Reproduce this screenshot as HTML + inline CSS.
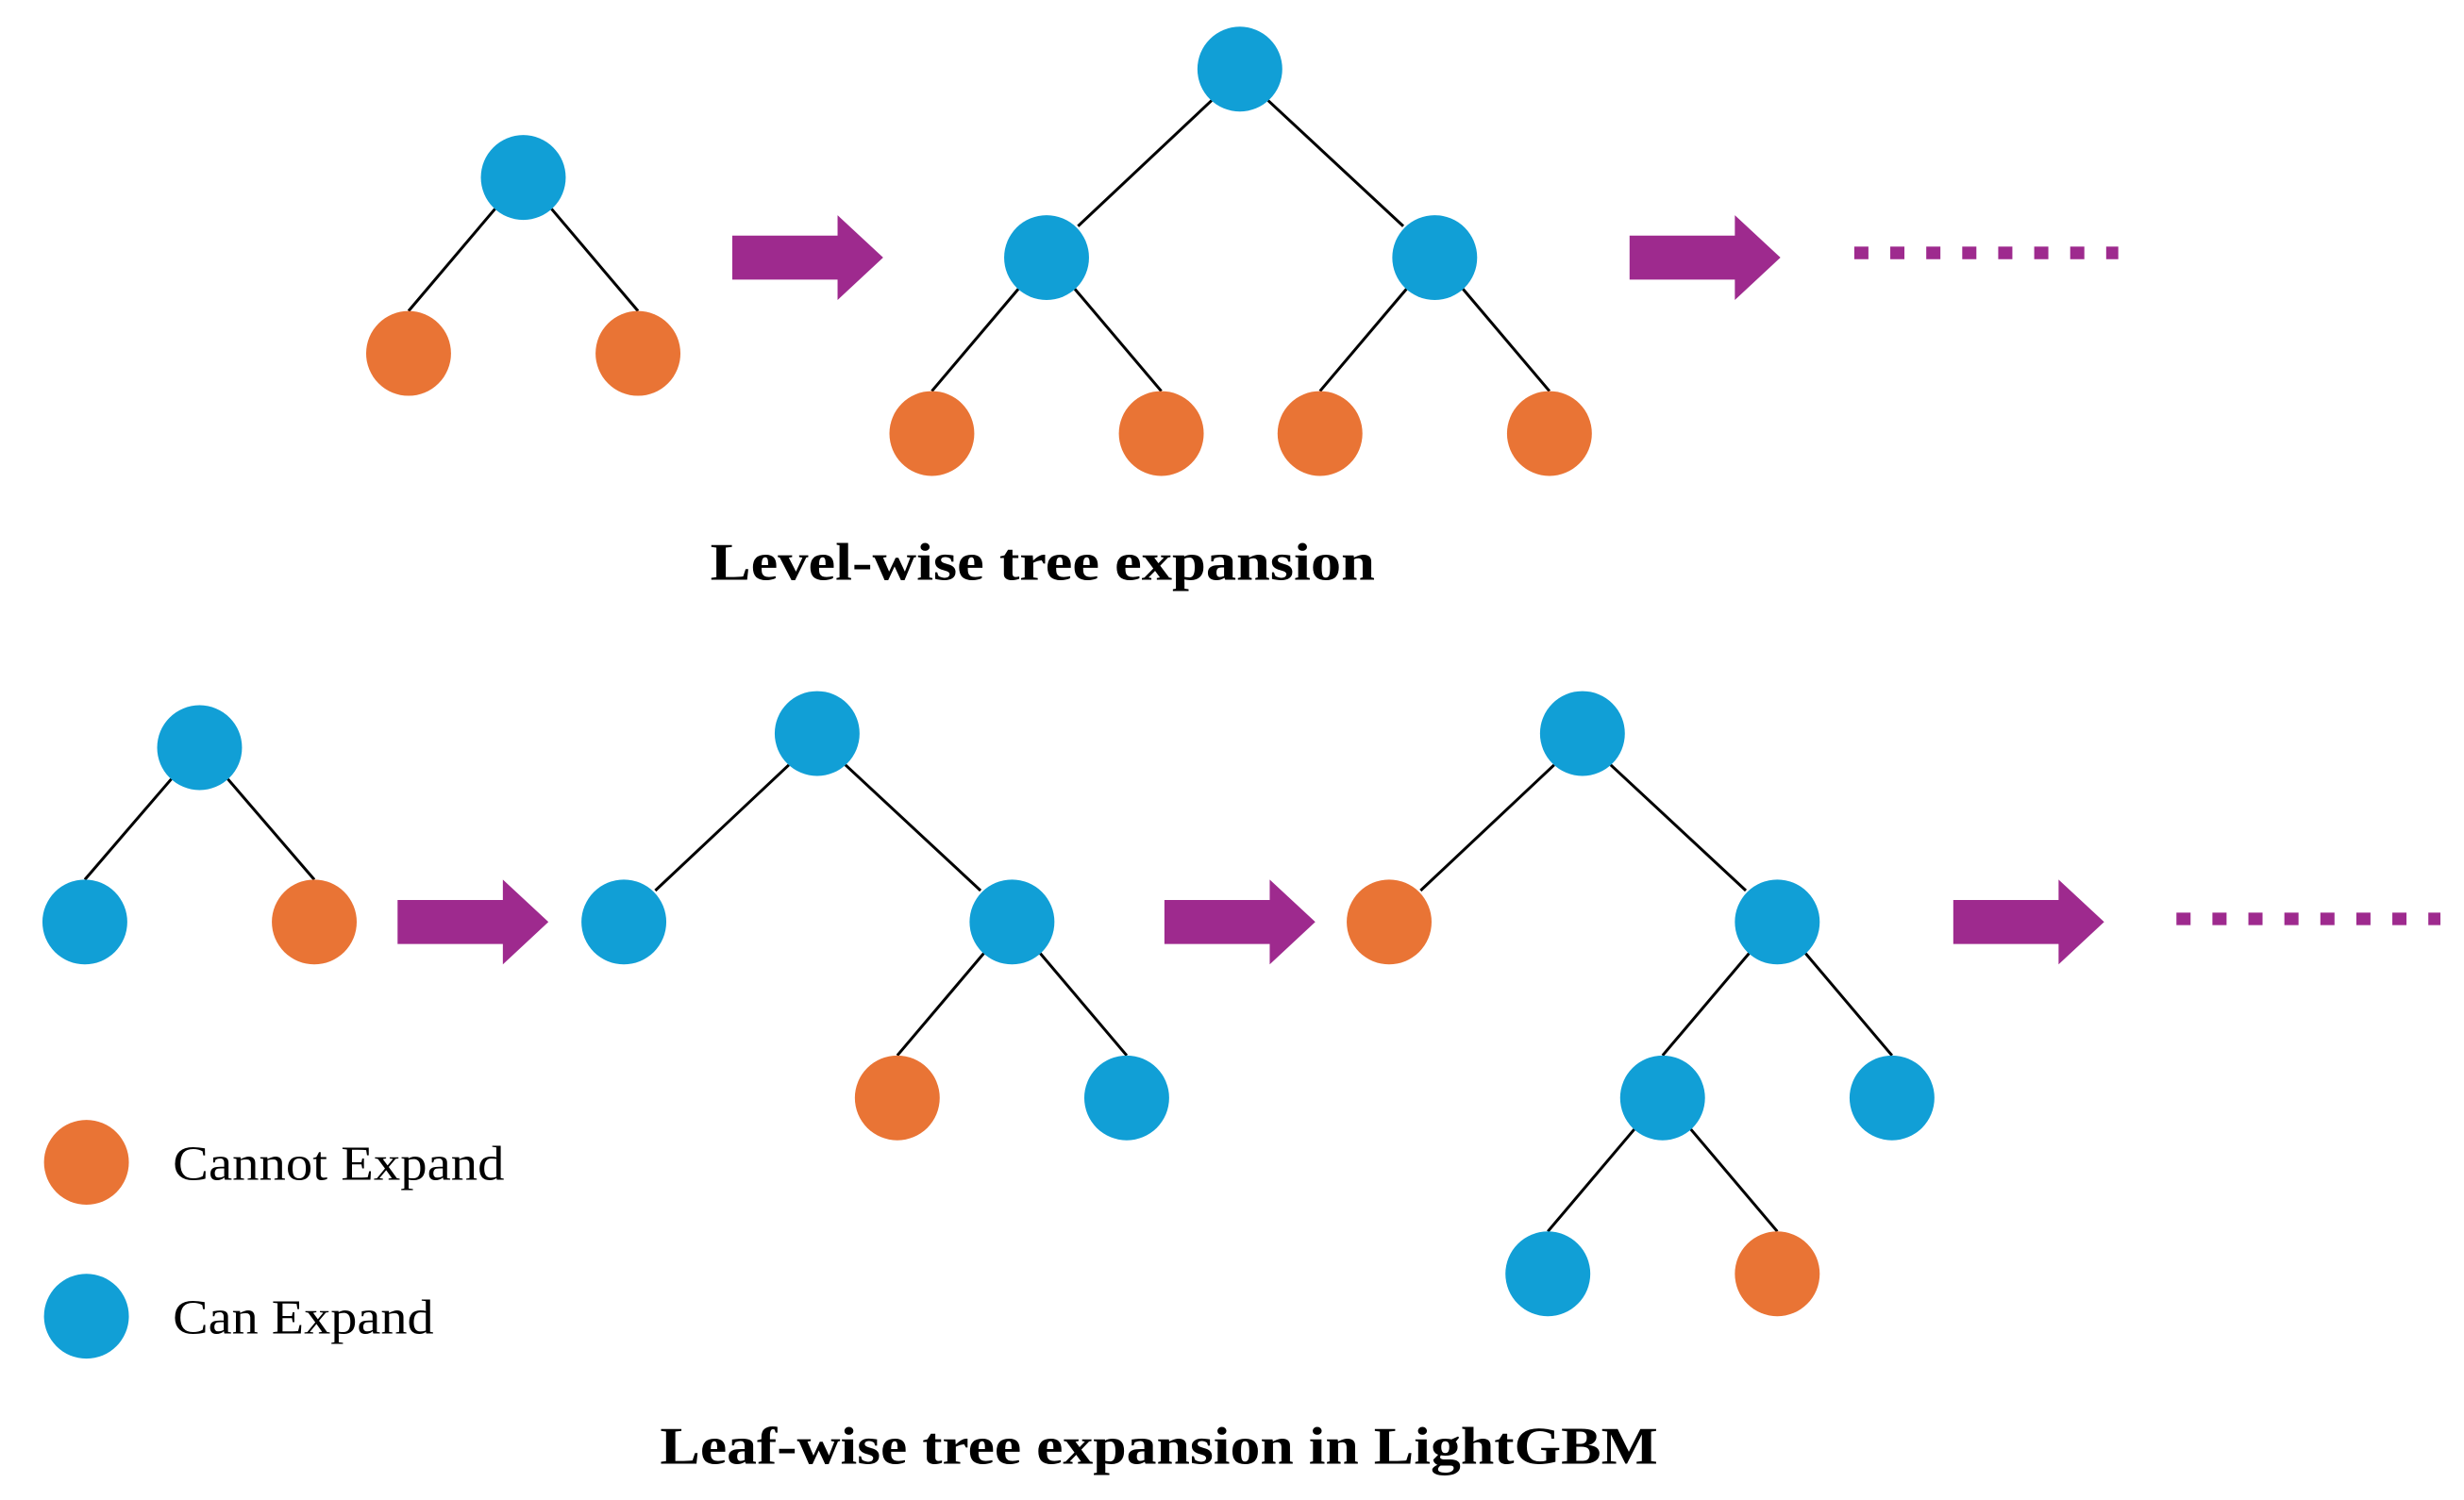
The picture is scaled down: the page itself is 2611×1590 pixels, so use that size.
<!DOCTYPE html>
<html><head><meta charset="utf-8"><style>html,body{margin:0;padding:0;background:#fff}svg{display:block}</style></head>
<body>
<svg width="2611" height="1590" viewBox="0 0 1568 955" preserveAspectRatio="none" xmlns="http://www.w3.org/2000/svg">
<defs>
<g id="arr"><polygon points="0,-14 67,-14 67,-27 96,0 67,27 67,14 0,14" fill="#9e2a8e"/></g>
</defs>
<g stroke="#000" stroke-width="1.8">
<line x1="315" y1="133" x2="260" y2="198"/><line x1="351" y1="133" x2="406" y2="198"/>
<line x1="771" y1="64" x2="686" y2="144"/><line x1="807" y1="64" x2="893" y2="144"/>
<line x1="648" y1="184" x2="593" y2="249"/><line x1="684" y1="184" x2="739" y2="249"/>
<line x1="895" y1="184" x2="840" y2="249"/><line x1="931" y1="184" x2="986" y2="249"/>
<line x1="109" y1="496" x2="54" y2="560"/><line x1="145" y1="496" x2="200" y2="560"/>
<line x1="502" y1="487" x2="417" y2="567"/><line x1="538" y1="487" x2="624" y2="567"/>
<line x1="626" y1="607" x2="571" y2="672"/><line x1="662" y1="607" x2="717" y2="672"/>
<line x1="989" y1="487" x2="904" y2="567"/><line x1="1025" y1="487" x2="1111" y2="567"/>
<line x1="1113" y1="607" x2="1058" y2="672"/><line x1="1149" y1="607" x2="1204" y2="672"/>
<line x1="1040" y1="719" x2="985" y2="784"/><line x1="1076" y1="719" x2="1131" y2="784"/>
</g>
<g fill="#119fd6">
<circle cx="333" cy="113" r="27"/><circle cx="789" cy="44" r="27"/><circle cx="666" cy="164" r="27"/><circle cx="913" cy="164" r="27"/>
<circle cx="127" cy="476" r="27"/><circle cx="54" cy="587" r="27"/>
<circle cx="520" cy="467" r="27"/><circle cx="397" cy="587" r="27"/><circle cx="644" cy="587" r="27"/><circle cx="717" cy="699" r="27"/>
<circle cx="1007" cy="467" r="27"/><circle cx="1131" cy="587" r="27"/><circle cx="1058" cy="699" r="27"/><circle cx="1204" cy="699" r="27"/><circle cx="985" cy="811" r="27"/>
<circle cx="55" cy="838" r="27"/>
</g>
<g fill="#e97435">
<circle cx="260" cy="225" r="27"/><circle cx="406" cy="225" r="27"/>
<circle cx="593" cy="276" r="27"/><circle cx="739" cy="276" r="27"/><circle cx="840" cy="276" r="27"/><circle cx="986" cy="276" r="27"/>
<circle cx="200" cy="587" r="27"/><circle cx="571" cy="699" r="27"/><circle cx="884" cy="587" r="27"/><circle cx="1131" cy="811" r="27"/>
<circle cx="55" cy="740" r="27"/>
</g>
<use href="#arr" x="466" y="164"/><use href="#arr" x="1037" y="164"/>
<use href="#arr" x="253" y="587"/><use href="#arr" x="741" y="587"/><use href="#arr" x="1243" y="587"/>
<line x1="1180" y1="161" x2="1348" y2="161" stroke="#9e2a8e" stroke-width="8" stroke-dasharray="9 13.9"/>
<line x1="1385" y1="585" x2="1553" y2="585" stroke="#9e2a8e" stroke-width="8" stroke-dasharray="9 13.9"/>
<g font-family="'Liberation Serif', serif" fill="#000">
<text x="452" y="369" font-size="34" font-weight="bold" textLength="423" lengthAdjust="spacingAndGlyphs">Level-wise tree expansion</text>
<text x="420" y="932" font-size="34" font-weight="bold" textLength="635" lengthAdjust="spacingAndGlyphs">Leaf-wise tree expansion in LightGBM</text>
<text x="110" y="751" font-size="31" textLength="211" lengthAdjust="spacingAndGlyphs">Cannot Expand</text>
<text x="110" y="849" font-size="31" textLength="166" lengthAdjust="spacingAndGlyphs">Can Expand</text>
</g>
</svg>
</body></html>
